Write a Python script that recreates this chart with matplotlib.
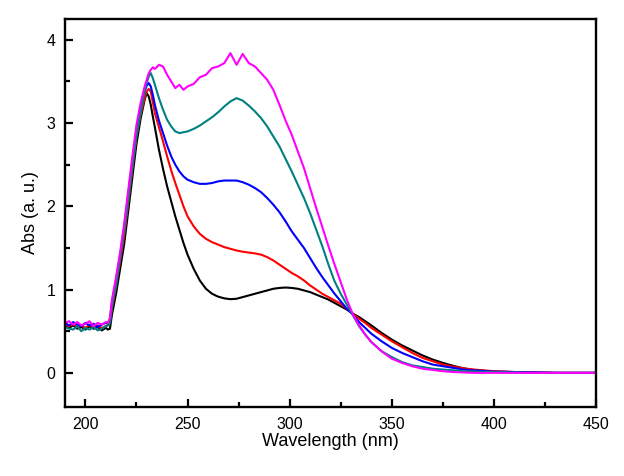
import matplotlib
matplotlib.use("Agg")
import matplotlib.pyplot as plt
from matplotlib.ticker import MultipleLocator

plt.rcParams['font.family'] = ['Liberation Sans', 'DejaVu Sans']

wavelength = [190, 192, 194, 196, 198, 200, 202, 204, 206, 208, 210,
              211, 212, 213, 215, 217, 219, 221, 223, 225, 227,
              229, 230, 231, 232, 233, 234, 236, 238, 240, 242,
              244, 246, 248, 250, 253, 256, 259, 262, 265, 268,
              271, 274, 277, 280, 283, 286, 289, 292, 295, 298,
              301, 304, 307, 310, 313, 316, 319, 322, 325, 328,
              331, 334, 337, 340, 345, 350, 355, 360, 365, 370,
              375, 380, 385, 390, 400, 410, 420, 430, 440, 450]

abs_black = [0.56, 0.54, 0.57, 0.53, 0.55, 0.52, 0.56, 0.53, 0.55, 0.51, 0.54,
             0.52, 0.53, 0.70, 0.95, 1.25, 1.55, 1.95, 2.35, 2.75, 3.05,
             3.28, 3.36, 3.32, 3.22, 3.08, 2.95, 2.68, 2.45, 2.24, 2.06,
             1.88, 1.72, 1.56, 1.42, 1.25, 1.11, 1.01, 0.95, 0.915, 0.895,
             0.885, 0.89, 0.91, 0.93, 0.95, 0.97, 0.99, 1.01, 1.02, 1.025,
             1.02, 1.01, 0.99, 0.97, 0.94, 0.91, 0.88, 0.84, 0.80, 0.76,
             0.71, 0.67, 0.62, 0.57, 0.48, 0.40, 0.33, 0.27, 0.21, 0.16,
             0.12, 0.085, 0.055, 0.035, 0.015, 0.01, 0.005, 0.0, 0.0, 0.0]

abs_red = [0.58, 0.56, 0.59, 0.55, 0.57, 0.54, 0.58, 0.55, 0.57, 0.54, 0.56,
           0.58, 0.60, 0.78, 1.05, 1.35, 1.65, 2.05, 2.45, 2.85, 3.10,
           3.30, 3.38, 3.41, 3.38, 3.25, 3.12, 2.95, 2.78, 2.60, 2.43,
           2.28, 2.14, 2.00, 1.88, 1.76, 1.67, 1.61, 1.57, 1.54, 1.51,
           1.49, 1.47, 1.455, 1.445, 1.435, 1.42, 1.39, 1.35, 1.30, 1.25,
           1.20, 1.16, 1.11, 1.05, 1.00, 0.95, 0.91, 0.87, 0.83, 0.77,
           0.71, 0.65, 0.60, 0.54, 0.46, 0.38, 0.31, 0.24, 0.18, 0.14,
           0.10, 0.075, 0.055, 0.04, 0.02, 0.01, 0.005, 0.0, 0.0, 0.0]

abs_blue = [0.60, 0.57, 0.61, 0.58, 0.56, 0.60, 0.57, 0.59, 0.55, 0.58, 0.60,
            0.60, 0.64, 0.85, 1.12, 1.42, 1.75, 2.15, 2.55, 2.92, 3.18,
            3.38, 3.45, 3.48, 3.44, 3.34, 3.22, 3.03, 2.88, 2.73, 2.60,
            2.50, 2.42, 2.36, 2.32, 2.29, 2.27, 2.27, 2.28, 2.30, 2.31,
            2.31, 2.31, 2.29, 2.26, 2.22, 2.17, 2.10, 2.02, 1.93, 1.82,
            1.70, 1.60, 1.50, 1.38, 1.26, 1.15, 1.05, 0.95, 0.86, 0.77,
            0.70, 0.61, 0.54, 0.47, 0.38, 0.30, 0.24, 0.19, 0.14, 0.10,
            0.08, 0.06, 0.04, 0.03, 0.015, 0.01, 0.005, 0.0, 0.0, 0.0]

abs_teal = [0.55, 0.53, 0.52, 0.56, 0.50, 0.54, 0.52, 0.55, 0.51, 0.53, 0.56,
            0.57, 0.60, 0.80, 1.05, 1.38, 1.70, 2.08, 2.48, 2.85, 3.12,
            3.38, 3.48, 3.56, 3.60, 3.54, 3.46, 3.30, 3.16, 3.04, 2.96,
            2.90, 2.88, 2.89, 2.90, 2.93, 2.97, 3.02, 3.07, 3.13, 3.20,
            3.26, 3.30, 3.27, 3.21, 3.14, 3.06, 2.96, 2.84, 2.72, 2.57,
            2.42, 2.26, 2.10, 1.92, 1.72, 1.52, 1.30, 1.10, 0.95, 0.82,
            0.69, 0.56, 0.46, 0.37, 0.26, 0.19, 0.13, 0.09, 0.07, 0.05,
            0.04, 0.03, 0.02, 0.015, 0.01, 0.005, 0.0, 0.0, 0.0, 0.0]

abs_magenta = [0.60, 0.62, 0.58, 0.61, 0.57, 0.59, 0.62, 0.56, 0.60, 0.58, 0.61,
               0.60, 0.66, 0.88, 1.15, 1.45, 1.80, 2.20, 2.60, 2.98, 3.24,
               3.44, 3.52, 3.60, 3.64, 3.67, 3.65, 3.70, 3.68, 3.58, 3.50,
               3.42, 3.46, 3.40, 3.44, 3.47, 3.55, 3.58, 3.66, 3.68, 3.72,
               3.84, 3.70, 3.83, 3.72, 3.68, 3.60, 3.52, 3.40, 3.22, 3.03,
               2.86, 2.66, 2.46, 2.22, 1.98, 1.75, 1.52, 1.30, 1.09, 0.88,
               0.70, 0.57, 0.46, 0.37, 0.26, 0.17, 0.12, 0.08, 0.05, 0.035,
               0.02, 0.01, 0.005, 0.0, 0.0, 0.0, 0.0, 0.0, 0.0, 0.0]

series = [abs_black, abs_red, abs_blue, abs_teal, abs_magenta]
colors = ['#000000', '#FF0000', '#0000FF', '#008080', '#FF00FF']

fig = plt.figure(figsize=(6.24, 4.76), dpi=100)
ax = fig.add_axes([65 / 624, 69 / 476, 531 / 624, 388 / 476])

for ys, c in zip(series, colors):
    ax.plot(wavelength, ys, color=c, lw=1.5)

ax.set_xlim(190, 450)
ax.set_ylim(-0.41, 4.25)
ax.xaxis.set_major_locator(MultipleLocator(50))
ax.xaxis.set_minor_locator(MultipleLocator(25))
ax.yaxis.set_major_locator(MultipleLocator(1))
ax.yaxis.set_minor_locator(MultipleLocator(0.5))
ax.tick_params(which='both', direction='in', top=False, right=False,
               width=1.6, labelsize=11.5, pad=7)
ax.tick_params(which='major', length=6)
ax.tick_params(which='minor', length=3.5)
for s in ax.spines.values():
    s.set_linewidth(1.7)

ax.set_xlabel('Wavelength (nm)', fontsize=13, labelpad=1)
ax.set_ylabel('Abs (a. u.)', fontsize=13, labelpad=5)

fig.savefig('out.png', dpi=100)
